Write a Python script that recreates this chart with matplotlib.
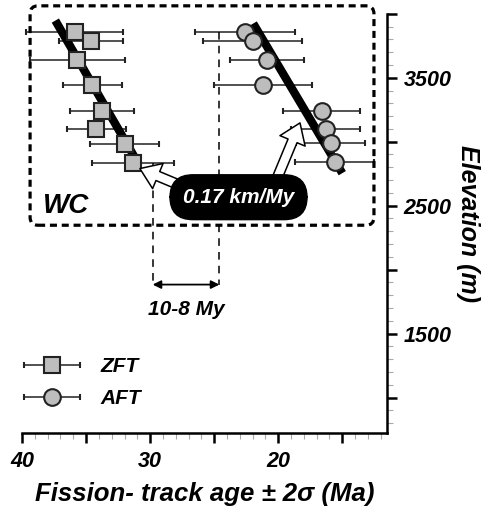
import numpy as np
import matplotlib.pyplot as plt
from matplotlib.patches import FancyBboxPatch
from matplotlib.ticker import MultipleLocator, FuncFormatter
from matplotlib.legend_handler import HandlerErrorbar
from matplotlib.container import ErrorbarContainer

plt.rcParams['font.family'] = ['Liberation Sans', 'DejaVu Sans']
plt.rcParams['font.weight'] = 'bold'
plt.rcParams['font.style'] = 'italic'
plt.rcParams['axes.labelweight'] = 'bold'

# --- data ---
zft_age = [35.9, 34.6, 35.7, 34.5, 33.75, 34.2, 32.0, 31.3]
zft_err = [3.8, 2.5, 3.7, 2.3, 2.5, 2.3, 2.7, 3.2]
zft_elev = [3861, 3790, 3641, 3445, 3241, 3100, 2982, 2833]

aft_age = [22.6, 22.0, 20.9, 21.2, 16.6, 16.3, 15.9, 15.6]
aft_err = [3.9, 3.85, 2.9, 3.8, 3.0, 2.7, 2.7, 3.1]
aft_elev = [3861, 3790, 3641, 3445, 3241, 3100, 2990, 2841]

# regression lines (0.17 km/My)
zft_fit_age = [37.4, 30.9]
zft_fit_elev = [3947, 2825]
aft_fit_age = [21.95, 15.0]
aft_fit_elev = [3924, 2754]

# 10-8 My bracket
bracket_age = [29.8, 24.6]
bracket_top = [2833, 3861]
bracket_elev = 1883

fill = '#bdbdbd'

fig = plt.figure(figsize=(4.9, 5.11), dpi=100)
ax = fig.add_axes([0.045, 0.152, 0.745, 0.821])

eb_z = ax.errorbar(zft_age, zft_elev, xerr=zft_err, fmt='s', ms=11.5, mfc=fill,
                   mec='#222222', mew=1.5, ecolor='#222222', elinewidth=1.1,
                   capsize=2, capthick=1.1, zorder=3, label='ZFT')
eb_a = ax.errorbar(aft_age, aft_elev, xerr=aft_err, fmt='o', ms=12, mfc=fill,
                   mec='#222222', mew=1.5, ecolor='#222222', elinewidth=1.1,
                   capsize=2, capthick=1.1, zorder=3, label='AFT')
for eb in (eb_z, eb_a):
    for c in eb.lines[1]:
        c.set_zorder(1)
    for c in eb.lines[2]:
        c.set_zorder(1)

ax.plot(zft_fit_age, zft_fit_elev, color='black', lw=6, solid_capstyle='butt', zorder=2)
ax.plot(aft_fit_age, aft_fit_elev, color='black', lw=6, solid_capstyle='butt', zorder=2)

# vertical dashed lines and the 10-8 My arrow
for a, top in zip(bracket_age, bracket_top):
    ax.plot([a, a], [top, bracket_elev], color='black', lw=1.1,
            ls=(0, (5, 4)), zorder=1)
ax.annotate('', xy=(bracket_age[0], bracket_elev), xytext=(bracket_age[1], bracket_elev),
            arrowprops=dict(arrowstyle='<|-|>', color='black', lw=1.3,
                            mutation_scale=12, shrinkA=0, shrinkB=0))
ax.text(np.mean(bracket_age), 1687, '10-8 My', ha='center', va='center', fontsize=15)

# hollow arrows from the rate label
arrow = dict(arrowstyle='simple,head_width=1.4,head_length=1.0,tail_width=0.5',
             fc='white', ec='black', lw=1.1, mutation_scale=14, shrinkA=0, shrinkB=0)
ax.annotate('', xy=(30.8, 2790), xytext=(26.5, 2610), arrowprops=arrow, zorder=4)
ax.annotate('', xy=(18.3, 3147), xytext=(20.4, 2640), arrowprops=arrow, zorder=4)

ax.text(23.1, 2566, '0.17 km/My', ha='center', va='center', fontsize=15,
        color='white', zorder=5,
        bbox=dict(boxstyle='round,pad=0.62,rounding_size=1.1', fc='black', ec='black'))

ax.text(38.4, 2495, 'WC', ha='left', va='center', fontsize=20)

# dashed rounded frame (axes fraction)
frame = FancyBboxPatch((0.022, 0.496), 0.942, 0.523,
                       boxstyle='round,pad=0,rounding_size=0.022', mutation_aspect=0.87,
                       transform=ax.transAxes, fill=False, ec='black', lw=2.3,
                       ls=(0, (2.2, 1.5)), clip_on=False, zorder=1)
ax.add_patch(frame)

# axes
ax.set_xlim(40, 11.5)
ax.set_ylim(720, 4000)
ax.spines['left'].set_visible(False)
ax.spines['top'].set_visible(False)
ax.spines['bottom'].set_linewidth(1.8)
ax.spines['right'].set_linewidth(1.8)
ax.yaxis.tick_right()
ax.yaxis.set_label_position('right')

ax.xaxis.set_major_locator(MultipleLocator(5))
ax.xaxis.set_minor_locator(MultipleLocator(1))
ax.xaxis.set_major_formatter(FuncFormatter(lambda v, p: f'{v:.0f}' if v % 10 == 0 else ''))
ax.yaxis.set_major_locator(MultipleLocator(500))
ax.yaxis.set_minor_locator(MultipleLocator(100))
ax.yaxis.set_major_formatter(FuncFormatter(lambda v, p: f'{v:.0f}' if v % 1000 == 500 else ''))

ax.tick_params(which='major', length=7, width=1.8, labelsize=15.5, pad=5)
ax.tick_params(which='minor', length=4, width=0.8, color='#aaaaaa')
ax.tick_params(axis='x', which='major', pad=6)

ax.set_xlabel('Fission- track age ± 2σ (Ma)', fontsize=18.5, fontweight='bold',
              fontstyle='italic', labelpad=7)
ax.set_ylabel('Elevation (m)', fontsize=18, fontweight='bold', fontstyle='italic',
              rotation=270, labelpad=20)

ax.legend(handles=[eb_z, eb_a], loc='lower left', bbox_to_anchor=(-0.02, 0.041),
          borderaxespad=0, frameon=False, fontsize=15, handlelength=2.8,
          handletextpad=0.9, labelspacing=0.6,
          handler_map={ErrorbarContainer: HandlerErrorbar(xerr_size=1.35)})

fig.savefig('out.png', dpi=100)
